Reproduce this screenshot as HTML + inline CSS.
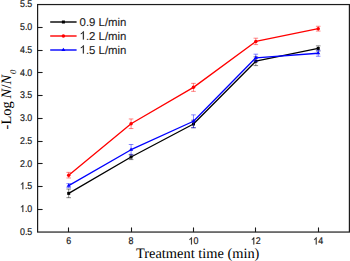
<!DOCTYPE html><html><head><meta charset="utf-8"><style>html,body{margin:0;padding:0;background:#fff;}svg{display:block;} text{text-rendering:geometricPrecision;}</style></head><body>
<svg width="350" height="261" viewBox="0 0 350 261">
<rect x="0" y="0" width="350" height="261" fill="#fff"/>
<polyline points="68.70,193.38 131.08,156.98 193.46,123.99 255.84,61.20 318.22,48.46" fill="none" stroke="#000000" stroke-width="1.3" stroke-linejoin="round"/>
<g stroke="#000000" stroke-width="0.8" stroke-opacity="0.6"><line x1="68.70" y1="189.07" x2="68.70" y2="197.68"/><line x1="66.40" y1="189.07" x2="71.00" y2="189.07"/><line x1="66.40" y1="197.68" x2="71.00" y2="197.68"/></g>
<g stroke="#000000" stroke-width="0.8" stroke-opacity="0.6"><line x1="131.08" y1="154.38" x2="131.08" y2="159.58"/><line x1="128.78" y1="154.38" x2="133.38" y2="154.38"/><line x1="128.78" y1="159.58" x2="133.38" y2="159.58"/></g>
<g stroke="#000000" stroke-width="0.8" stroke-opacity="0.6"><line x1="193.46" y1="120.19" x2="193.46" y2="127.79"/><line x1="191.16" y1="120.19" x2="195.76" y2="120.19"/><line x1="191.16" y1="127.79" x2="195.76" y2="127.79"/></g>
<g stroke="#000000" stroke-width="0.8" stroke-opacity="0.6"><line x1="255.84" y1="56.80" x2="255.84" y2="65.60"/><line x1="253.54" y1="56.80" x2="258.14" y2="56.80"/><line x1="253.54" y1="65.60" x2="258.14" y2="65.60"/></g>
<g stroke="#000000" stroke-width="0.8" stroke-opacity="0.6"><line x1="318.22" y1="45.86" x2="318.22" y2="51.06"/><line x1="315.92" y1="45.86" x2="320.52" y2="45.86"/><line x1="315.92" y1="51.06" x2="320.52" y2="51.06"/></g>
<rect x="67.20" y="191.88" width="3.0" height="3.0" fill="#000000"/>
<rect x="129.58" y="155.48" width="3.0" height="3.0" fill="#000000"/>
<rect x="191.96" y="122.49" width="3.0" height="3.0" fill="#000000"/>
<rect x="254.34" y="59.70" width="3.0" height="3.0" fill="#000000"/>
<rect x="316.72" y="46.96" width="3.0" height="3.0" fill="#000000"/>
<polyline points="68.70,185.64 131.08,149.69 193.46,121.26 255.84,57.78 318.22,53.24" fill="none" stroke="#0000ff" stroke-width="1.3" stroke-linejoin="round"/>
<g stroke="#0000ff" stroke-width="0.8" stroke-opacity="0.6"><line x1="68.70" y1="183.64" x2="68.70" y2="187.64"/><line x1="66.40" y1="183.64" x2="71.00" y2="183.64"/><line x1="66.40" y1="187.64" x2="71.00" y2="187.64"/></g>
<g stroke="#0000ff" stroke-width="0.8" stroke-opacity="0.6"><line x1="131.08" y1="144.50" x2="131.08" y2="154.89"/><line x1="128.78" y1="144.50" x2="133.38" y2="144.50"/><line x1="128.78" y1="154.89" x2="133.38" y2="154.89"/></g>
<g stroke="#0000ff" stroke-width="0.8" stroke-opacity="0.6"><line x1="193.46" y1="114.86" x2="193.46" y2="127.66"/><line x1="191.16" y1="114.86" x2="195.76" y2="114.86"/><line x1="191.16" y1="127.66" x2="195.76" y2="127.66"/></g>
<g stroke="#0000ff" stroke-width="0.8" stroke-opacity="0.6"><line x1="255.84" y1="54.18" x2="255.84" y2="61.38"/><line x1="253.54" y1="54.18" x2="258.14" y2="54.18"/><line x1="253.54" y1="61.38" x2="258.14" y2="61.38"/></g>
<g stroke="#0000ff" stroke-width="0.8" stroke-opacity="0.6"><line x1="318.22" y1="50.24" x2="318.22" y2="56.24"/><line x1="315.92" y1="50.24" x2="320.52" y2="50.24"/><line x1="315.92" y1="56.24" x2="320.52" y2="56.24"/></g>
<path d="M66.60,186.74 L70.80,186.74 L68.70,183.44 Z" fill="#0000ff"/>
<path d="M128.98,150.79 L133.18,150.79 L131.08,147.50 Z" fill="#0000ff"/>
<path d="M191.36,122.36 L195.56,122.36 L193.46,119.06 Z" fill="#0000ff"/>
<path d="M253.74,58.88 L257.94,58.88 L255.84,55.58 Z" fill="#0000ff"/>
<path d="M316.12,54.34 L320.32,54.34 L318.22,51.04 Z" fill="#0000ff"/>
<polyline points="68.70,175.18 131.08,123.76 193.46,87.36 255.84,41.40 318.22,28.67" fill="none" stroke="#ff0000" stroke-width="1.3" stroke-linejoin="round"/>
<g stroke="#ff0000" stroke-width="0.8" stroke-opacity="0.6"><line x1="68.70" y1="172.38" x2="68.70" y2="177.98"/><line x1="66.40" y1="172.38" x2="71.00" y2="172.38"/><line x1="66.40" y1="177.98" x2="71.00" y2="177.98"/></g>
<g stroke="#ff0000" stroke-width="0.8" stroke-opacity="0.6"><line x1="131.08" y1="118.96" x2="131.08" y2="128.56"/><line x1="128.78" y1="118.96" x2="133.38" y2="118.96"/><line x1="128.78" y1="128.56" x2="133.38" y2="128.56"/></g>
<g stroke="#ff0000" stroke-width="0.8" stroke-opacity="0.6"><line x1="193.46" y1="83.36" x2="193.46" y2="91.36"/><line x1="191.16" y1="83.36" x2="195.76" y2="83.36"/><line x1="191.16" y1="91.36" x2="195.76" y2="91.36"/></g>
<g stroke="#ff0000" stroke-width="0.8" stroke-opacity="0.6"><line x1="255.84" y1="38.20" x2="255.84" y2="44.60"/><line x1="253.54" y1="38.20" x2="258.14" y2="38.20"/><line x1="253.54" y1="44.60" x2="258.14" y2="44.60"/></g>
<g stroke="#ff0000" stroke-width="0.8" stroke-opacity="0.6"><line x1="318.22" y1="26.27" x2="318.22" y2="31.07"/><line x1="315.92" y1="26.27" x2="320.52" y2="26.27"/><line x1="315.92" y1="31.07" x2="320.52" y2="31.07"/></g>
<circle cx="68.70" cy="175.18" r="1.75" fill="#ff0000"/>
<circle cx="131.08" cy="123.76" r="1.75" fill="#ff0000"/>
<circle cx="193.46" cy="87.36" r="1.75" fill="#ff0000"/>
<circle cx="255.84" cy="41.40" r="1.75" fill="#ff0000"/>
<circle cx="318.22" cy="28.67" r="1.75" fill="#ff0000"/>
<rect x="37.6" y="4.55" width="311.80" height="227.50" fill="none" stroke="#1c1c1c" stroke-width="1.2"/>
<line x1="37.6" y1="209.50" x2="42.6" y2="209.50" stroke="#1c1c1c" stroke-width="1.1"/>
<line x1="37.6" y1="186.50" x2="42.6" y2="186.50" stroke="#1c1c1c" stroke-width="1.1"/>
<line x1="37.6" y1="163.50" x2="42.6" y2="163.50" stroke="#1c1c1c" stroke-width="1.1"/>
<line x1="37.6" y1="141.50" x2="42.6" y2="141.50" stroke="#1c1c1c" stroke-width="1.1"/>
<line x1="37.6" y1="118.50" x2="42.6" y2="118.50" stroke="#1c1c1c" stroke-width="1.1"/>
<line x1="37.6" y1="95.50" x2="42.6" y2="95.50" stroke="#1c1c1c" stroke-width="1.1"/>
<line x1="37.6" y1="72.50" x2="42.6" y2="72.50" stroke="#1c1c1c" stroke-width="1.1"/>
<line x1="37.6" y1="50.50" x2="42.6" y2="50.50" stroke="#1c1c1c" stroke-width="1.1"/>
<line x1="37.6" y1="27.50" x2="42.6" y2="27.50" stroke="#1c1c1c" stroke-width="1.1"/>
<line x1="68.50" y1="232.05" x2="68.50" y2="227.45000000000002" stroke="#1c1c1c" stroke-width="1.1"/>
<line x1="131.50" y1="232.05" x2="131.50" y2="227.45000000000002" stroke="#1c1c1c" stroke-width="1.1"/>
<line x1="193.50" y1="232.05" x2="193.50" y2="227.45000000000002" stroke="#1c1c1c" stroke-width="1.1"/>
<line x1="255.50" y1="232.05" x2="255.50" y2="227.45000000000002" stroke="#1c1c1c" stroke-width="1.1"/>
<line x1="318.50" y1="232.05" x2="318.50" y2="227.45000000000002" stroke="#1c1c1c" stroke-width="1.1"/>
<text transform="translate(19.971,234.750) scale(0.905,1)" font-family="Liberation Sans, sans-serif" font-size="9.8" fill="#1a1a1a" stroke="#1a1a1a" stroke-width="0.2">0.5</text>
<path transform="translate(19.971,212.000) scale(0.004331,-0.004785)" d="M763 0H583V1147Q518 1085 412.5 1023Q307 961 223 930V1104Q374 1175 487 1276Q600 1377 647 1472H763Z" fill="#1a1a1a" stroke="#1a1a1a" stroke-width="41.8"/><text transform="translate(24.903,212.000) scale(0.905,1)" font-family="Liberation Sans, sans-serif" font-size="9.8" fill="#1a1a1a" stroke="#1a1a1a" stroke-width="0.2">.0</text>
<path transform="translate(19.971,189.250) scale(0.004331,-0.004785)" d="M763 0H583V1147Q518 1085 412.5 1023Q307 961 223 930V1104Q374 1175 487 1276Q600 1377 647 1472H763Z" fill="#1a1a1a" stroke="#1a1a1a" stroke-width="41.8"/><text transform="translate(24.903,189.250) scale(0.905,1)" font-family="Liberation Sans, sans-serif" font-size="9.8" fill="#1a1a1a" stroke="#1a1a1a" stroke-width="0.2">.5</text>
<text transform="translate(19.971,166.500) scale(0.905,1)" font-family="Liberation Sans, sans-serif" font-size="9.8" fill="#1a1a1a" stroke="#1a1a1a" stroke-width="0.2">2.0</text>
<text transform="translate(19.971,143.750) scale(0.905,1)" font-family="Liberation Sans, sans-serif" font-size="9.8" fill="#1a1a1a" stroke="#1a1a1a" stroke-width="0.2">2.5</text>
<text transform="translate(19.971,121.000) scale(0.905,1)" font-family="Liberation Sans, sans-serif" font-size="9.8" fill="#1a1a1a" stroke="#1a1a1a" stroke-width="0.2">3.0</text>
<text transform="translate(19.971,98.250) scale(0.905,1)" font-family="Liberation Sans, sans-serif" font-size="9.8" fill="#1a1a1a" stroke="#1a1a1a" stroke-width="0.2">3.5</text>
<text transform="translate(19.971,75.500) scale(0.905,1)" font-family="Liberation Sans, sans-serif" font-size="9.8" fill="#1a1a1a" stroke="#1a1a1a" stroke-width="0.2">4.0</text>
<text transform="translate(19.971,52.750) scale(0.905,1)" font-family="Liberation Sans, sans-serif" font-size="9.8" fill="#1a1a1a" stroke="#1a1a1a" stroke-width="0.2">4.5</text>
<text transform="translate(19.971,30.000) scale(0.905,1)" font-family="Liberation Sans, sans-serif" font-size="9.8" fill="#1a1a1a" stroke="#1a1a1a" stroke-width="0.2">5.0</text>
<text transform="translate(19.971,6.850) scale(0.905,1)" font-family="Liberation Sans, sans-serif" font-size="9.8" fill="#1a1a1a" stroke="#1a1a1a" stroke-width="0.2">5.5</text>
<text transform="translate(66.234,244.400) scale(0.905,1)" font-family="Liberation Sans, sans-serif" font-size="9.8" fill="#1a1a1a" stroke="#1a1a1a" stroke-width="0.2">6</text>
<text transform="translate(128.614,244.400) scale(0.905,1)" font-family="Liberation Sans, sans-serif" font-size="9.8" fill="#1a1a1a" stroke="#1a1a1a" stroke-width="0.2">8</text>
<path transform="translate(188.527,244.400) scale(0.004331,-0.004785)" d="M763 0H583V1147Q518 1085 412.5 1023Q307 961 223 930V1104Q374 1175 487 1276Q600 1377 647 1472H763Z" fill="#1a1a1a" stroke="#1a1a1a" stroke-width="41.8"/><text transform="translate(193.460,244.400) scale(0.905,1)" font-family="Liberation Sans, sans-serif" font-size="9.8" fill="#1a1a1a" stroke="#1a1a1a" stroke-width="0.2">0</text>
<path transform="translate(250.907,244.400) scale(0.004331,-0.004785)" d="M763 0H583V1147Q518 1085 412.5 1023Q307 961 223 930V1104Q374 1175 487 1276Q600 1377 647 1472H763Z" fill="#1a1a1a" stroke="#1a1a1a" stroke-width="41.8"/><text transform="translate(255.840,244.400) scale(0.905,1)" font-family="Liberation Sans, sans-serif" font-size="9.8" fill="#1a1a1a" stroke="#1a1a1a" stroke-width="0.2">2</text>
<path transform="translate(313.287,244.400) scale(0.004331,-0.004785)" d="M763 0H583V1147Q518 1085 412.5 1023Q307 961 223 930V1104Q374 1175 487 1276Q600 1377 647 1472H763Z" fill="#1a1a1a" stroke="#1a1a1a" stroke-width="41.8"/><text transform="translate(318.220,244.400) scale(0.905,1)" font-family="Liberation Sans, sans-serif" font-size="9.8" fill="#1a1a1a" stroke="#1a1a1a" stroke-width="0.2">4</text>
<text x="136" y="257.6" font-family="Liberation Serif, serif" font-size="14.4" fill="#000">Treatment time (min)</text>
<text transform="translate(10.6,129.4) rotate(-90)" x="0" y="0" font-family="Liberation Serif, serif" font-size="14.4" fill="#000">-Log <tspan font-style="italic" dx="-0.7">N</tspan><tspan dx="0.3">/</tspan><tspan font-style="italic">N</tspan><tspan font-style="italic" font-size="8.6" dx="0.9" dy="5.2">0</tspan></text>
<line x1="50.2" y1="22.0" x2="76.6" y2="22.0" stroke="#000000" stroke-width="1.4"/>
<rect x="61.90" y="20.50" width="3.0" height="3.0" fill="#000000"/>
<text transform="translate(79.600,25.500)" font-family="Liberation Sans, sans-serif" font-size="11.4" fill="#1a1a1a" stroke="#1a1a1a" stroke-width="0.1">0.9 L/min</text>
<line x1="50.2" y1="36.0" x2="76.6" y2="36.0" stroke="#ff0000" stroke-width="1.4"/>
<circle cx="63.40" cy="36.00" r="1.75" fill="#ff0000"/>
<path transform="translate(79.600,39.500) scale(0.005566,-0.005566)" d="M763 0H583V1147Q518 1085 412.5 1023Q307 961 223 930V1104Q374 1175 487 1276Q600 1377 647 1472H763Z" fill="#1a1a1a" stroke="#1a1a1a" stroke-width="18.0"/><text transform="translate(85.940,39.500)" font-family="Liberation Sans, sans-serif" font-size="11.4" fill="#1a1a1a" stroke="#1a1a1a" stroke-width="0.1">.2 L/min</text>
<line x1="50.2" y1="50.0" x2="76.6" y2="50.0" stroke="#0000ff" stroke-width="1.4"/>
<path d="M61.30,51.10 L65.50,51.10 L63.40,47.80 Z" fill="#0000ff"/>
<path transform="translate(79.600,53.500) scale(0.005566,-0.005566)" d="M763 0H583V1147Q518 1085 412.5 1023Q307 961 223 930V1104Q374 1175 487 1276Q600 1377 647 1472H763Z" fill="#1a1a1a" stroke="#1a1a1a" stroke-width="18.0"/><text transform="translate(85.940,53.500)" font-family="Liberation Sans, sans-serif" font-size="11.4" fill="#1a1a1a" stroke="#1a1a1a" stroke-width="0.1">.5 L/min</text>
</svg></body></html>
